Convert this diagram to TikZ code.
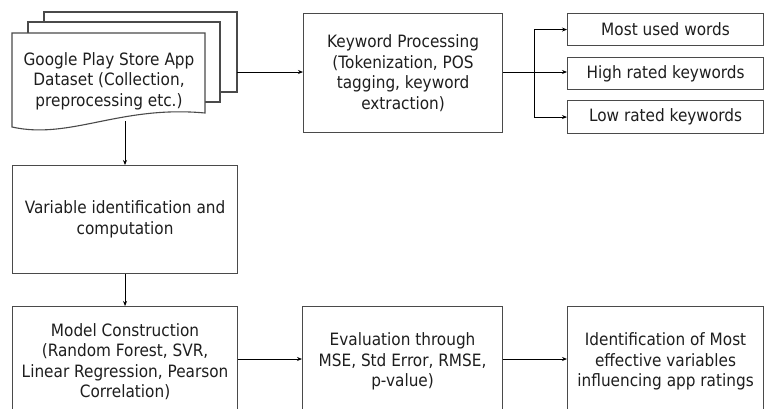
\documentclass[tikz,border=0pt]{standalone}
\usepackage{fontspec}
\setmainfont[FakeStretch=0.9]{DejaVu Sans}
\usetikzlibrary{arrows.meta}
\definecolor{edge}{HTML}{4A4A4A}
\definecolor{ink}{HTML}{1E1E1E}
\tikzset{
  label text/.style={align=center, text=ink, font=\fontsize{17}{20.5}\selectfont},
  box/.style={draw=edge, line width=1.1pt, fill=white, label text,
              anchor=north west, inner sep=2pt},
  page/.style={draw=edge, line width=1.1pt, fill=white},
  flow/.style={draw=black, line width=0.9pt, -{Stealth[length=5pt,width=4pt]}},
  link/.style={draw=black, line width=0.9pt}
}
\begin{document}
\begin{tikzpicture}[x=1pt,y=-1pt]
\useasboundingbox (0,0) rectangle (767,408);
\clip (0,0) rectangle (767,408);

% stacked pages of the dataset symbol
\path[page] (44,12) rectangle (237,92);
\path[page] (28,22) rectangle (220,102);
\path[page] (12,33) -- (205,33) -- (205,113)
  .. controls (120,105) and (70,140) .. (12,127) -- cycle;
\node[label text] (data) at (109,81)
  {Google Play Store App\\Dataset (Collection,\\preprocessing etc.)};
\coordinate (dataout) at (237,72);
\coordinate (databot) at (125,121);

% boxes
\node[box, minimum width=199pt, minimum height=119pt] (kw) at (303,13)
  {Keyword Processing\\(Tokenization, POS\\tagging, keyword\\extraction)};
\node[box, minimum width=196pt, minimum height=32pt] (most) at (567,13) {Most used words};
\node[box, minimum width=196pt, minimum height=32pt] (high) at (567,57) {High rated keywords};
\node[box, minimum width=196pt, minimum height=33pt] (low) at (567,100) {Low rated keywords};

\node[box, minimum width=225pt, minimum height=108pt] (var) at (12,165)
  {Variable identification and\\computation};

\node[box, minimum width=225pt, minimum height=110pt] (model) at (12,306)
  {Model Construction\\(Random Forest, SVR,\\Linear Regression, Pearson\\Correlation)};
\node[box, minimum width=200pt, minimum height=110pt] (eval) at (302,306)
  {Evaluation through\\MSE, Std Error, RMSE,\\p-value)};
\node[box, minimum width=196pt, minimum height=110pt] (ident) at (567,306)
  {Identification of Most\\effective variables\\influencing app ratings};

% connectors
\draw[flow] (dataout) -- (dataout -| kw.west);
\coordinate (split) at (534,72);
\draw[link] (kw.east |- split) -- (split);
\draw[link] (split |- most.west) -- (split |- low.west);
\draw[flow] (split |- most.west) -- (most.west);
\draw[flow] (split) -- (high.west |- split);
\draw[flow] (split |- low.west) -- (low.west);
\draw[flow] (databot) -- (var.north -| databot);
\draw[flow] (var.south) -- (model.north);
\draw[flow] (model.east |- 0,359) -- (eval.west |- 0,359);
\draw[flow] (eval.east |- 0,359) -- (ident.west |- 0,359);
\end{tikzpicture}
\end{document}
